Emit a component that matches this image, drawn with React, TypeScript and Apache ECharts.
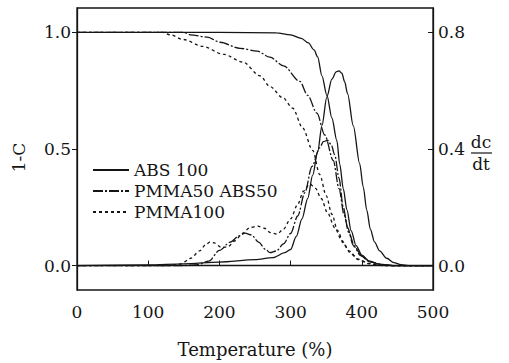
import React, { useEffect, useRef } from "react";
import * as echarts from "echarts";

// ---- data ----
const SERIES_NAMES = ["ABS 100", "PMMA50 ABS50", "PMMA100"];

// 1-C curves (left axis)
const ABS_C_T = [0, 200, 280, 300, 315, 325, 333, 338, 344, 351, 358, 365, 369, 374, 379, 385, 392, 400, 410, 425, 445, 500];
const ABS_C_V = [1, 1, 0.998, 0.99, 0.975, 0.955, 0.925, 0.895, 0.814, 0.73, 0.633, 0.536, 0.435, 0.33, 0.24, 0.15, 0.085, 0.045, 0.02, 0.006, 0, 0];

const MIX_C_T = [0, 150, 159, 183, 201, 229, 253, 271, 290, 313, 324, 337, 348, 360, 368, 375, 382, 390, 400, 412, 430, 445, 500];
const MIX_C_V = [1, 1, 0.99, 0.98, 0.958, 0.932, 0.92, 0.894, 0.857, 0.79, 0.73, 0.654, 0.56, 0.45, 0.33, 0.22, 0.14, 0.08, 0.04, 0.015, 0.003, 0, 0];

const PMMA_C_T = [0, 120, 131, 149, 177, 205, 233, 257, 271, 289, 303, 317, 331, 341, 350, 358, 366, 375, 385, 395, 410, 430, 500];
const PMMA_C_V = [1, 1, 0.99, 0.97, 0.94, 0.907, 0.873, 0.814, 0.768, 0.72, 0.675, 0.59, 0.494, 0.39, 0.3, 0.22, 0.15, 0.09, 0.05, 0.025, 0.008, 0, 0];

// dc/dt curves (right axis)
const ABS_D_T = [0, 100, 150, 200, 250, 275, 292, 300, 308, 316, 324, 331, 338, 344, 351, 358, 364, 368, 372, 376, 380, 388, 397, 402, 407, 412, 418, 425, 435, 445, 455, 465, 500];
const ABS_D_V = [0, 0.002, 0.006, 0.012, 0.02, 0.027, 0.044, 0.055, 0.1, 0.16, 0.23, 0.31, 0.39, 0.48, 0.58, 0.64, 0.665, 0.668, 0.66, 0.63, 0.59, 0.48, 0.35, 0.27, 0.19, 0.125, 0.08, 0.05, 0.025, 0.01, 0.003, 0, 0];

const MIX_D_T = [0, 150, 170, 185, 200, 215, 228, 236, 245, 255, 265, 271, 280, 290, 300, 310, 320, 330, 341, 346, 352, 357, 362, 368, 374, 380, 388, 398, 410, 425, 440, 500];
const MIX_D_V = [0, 0, 0.003, 0.015, 0.052, 0.08, 0.102, 0.111, 0.105, 0.08, 0.055, 0.044, 0.05, 0.074, 0.11, 0.17, 0.25, 0.34, 0.405, 0.425, 0.43, 0.415, 0.38, 0.3, 0.2, 0.13, 0.07, 0.035, 0.015, 0.004, 0, 0];

const PMMA_D_T = [0, 130, 145, 160, 172, 181, 187, 193, 198, 203, 212, 222, 232, 243, 254, 263, 272, 281, 290, 300, 310, 318, 327, 335, 343, 352, 362, 372, 382, 395, 410, 430, 500];
const PMMA_D_V = [0, 0, 0.005, 0.025, 0.05, 0.072, 0.081, 0.078, 0.068, 0.061, 0.065, 0.085, 0.11, 0.13, 0.135, 0.128, 0.113, 0.108, 0.125, 0.16, 0.21, 0.255, 0.28, 0.265, 0.23, 0.18, 0.13, 0.085, 0.05, 0.022, 0.007, 0, 0];

const X_TICKS = [0, 100, 200, 300, 400, 500];
const LEFT_TICKS = [0, 0.5, 1.0];
const RIGHT_TICKS = [0, 0.4, 0.8];

const zip = (xs: number[], ys: number[]) => xs.map((x, i) => [x, ys[i]]);

const INK = "#151515";
const FONT = "'DejaVu Serif'";

export default function App() {
  const ref = useRef<HTMLDivElement>(null);
  useEffect(() => {
    if (!ref.current) return;
    const chart = echarts.init(ref.current, undefined, { renderer: "svg" });
    const styles = [
      { type: "solid" as any },
      { type: [10, 2, 2, 2] as any },
      { type: [3, 3] as any },
    ];
    const mk = (name: string, data: number[][], axis: number, st: any) => ({
      name,
      type: "line",
      yAxisIndex: axis,
      data,
      symbol: "none",
      showSymbol: false,
      smooth: 0.3,
      smoothMonotone: "x",
      lineStyle: { color: INK, width: 1.3, ...st },
      itemStyle: { color: INK },
    });
    const text = { fontFamily: FONT, fontSize: 17, color: INK };
    chart.setOption({
      animation: false,
      backgroundColor: "#fff",
      grid: { left: 77, right: 76, top: 8, bottom: 68, show: true, borderColor: INK, borderWidth: 1.3 },
      legend: {
        data: SERIES_NAMES,
        orient: "vertical",
        left: 87,
        top: 155,
        itemWidth: 36,
        itemHeight: 12,
        itemGap: 1,
        itemStyle: { opacity: 0 },
        textStyle: { ...text, lineHeight: 20 },
        selectedMode: false,
      },
      xAxis: {
        type: "value",
        min: 0,
        max: 500,
        interval: 100,
        name: "Temperature (%)",
        nameLocation: "middle",
        nameGap: 50,
        nameTextStyle: { ...text, fontSize: 18 },
        axisLine: { show: true, lineStyle: { color: INK, width: 1.3 } },
        axisTick: { show: true, inside: true, length: 5, lineStyle: { color: INK } },
        axisLabel: { ...text, margin: 13, customValues: X_TICKS },
        splitLine: { show: false },
      },
      yAxis: [
        {
          type: "value",
          min: -0.105,
          max: 1.105,
          position: "left",
          name: "1-C",
          nameLocation: "middle",
          nameRotate: 90,
          nameGap: 50,
          nameTextStyle: { ...text, padding: [0, 17, 0, 0] },
          axisLine: { show: true, lineStyle: { color: INK, width: 1.3 } },
          axisTick: { show: true, inside: false, length: 5, customValues: LEFT_TICKS, lineStyle: { color: INK } },
          axisLabel: { ...text, margin: 6, customValues: LEFT_TICKS, formatter: (v: number) => v.toFixed(1) },
          splitLine: { show: false },
        },
        {
          type: "value",
          min: -0.084,
          max: 0.884,
          position: "right",
          axisLine: { show: true, lineStyle: { color: INK, width: 1.3 } },
          axisTick: { show: true, inside: true, length: 5, customValues: RIGHT_TICKS, lineStyle: { color: INK } },
          axisLabel: { ...text, margin: 5, customValues: RIGHT_TICKS, formatter: (v: number) => v.toFixed(1) },
          splitLine: { show: false },
        },
      ],
      graphic: [
        {
          type: "text",
          x: 481,
          y: 142,
          style: { text: "dc", fontFamily: FONT, fontSize: 17, fill: INK, align: "center", verticalAlign: "middle" },
        },
        {
          type: "line",
          shape: { x1: 471, y1: 153, x2: 492, y2: 153 },
          style: { stroke: INK, lineWidth: 1.2 },
        },
        {
          type: "text",
          x: 481,
          y: 164,
          style: { text: "dt", fontFamily: FONT, fontSize: 17, fill: INK, align: "center", verticalAlign: "middle" },
        },
      ],
      series: [
        mk(SERIES_NAMES[0], zip(ABS_C_T, ABS_C_V), 0, styles[0]),
        mk(SERIES_NAMES[1], zip(MIX_C_T, MIX_C_V), 0, styles[1]),
        mk(SERIES_NAMES[2], zip(PMMA_C_T, PMMA_C_V), 0, styles[2]),
        mk(SERIES_NAMES[0], zip(ABS_D_T, ABS_D_V), 1, styles[0]),
        mk(SERIES_NAMES[1], zip(MIX_D_T, MIX_D_V), 1, styles[1]),
        mk(SERIES_NAMES[2], zip(PMMA_D_T, PMMA_D_V), 1, styles[2]),
      ],
    });
    return () => chart.dispose();
  }, []);
  return <div ref={ref} style={{ width: 509, height: 363, position: "absolute", left: 0, top: 0 }} />;
}
